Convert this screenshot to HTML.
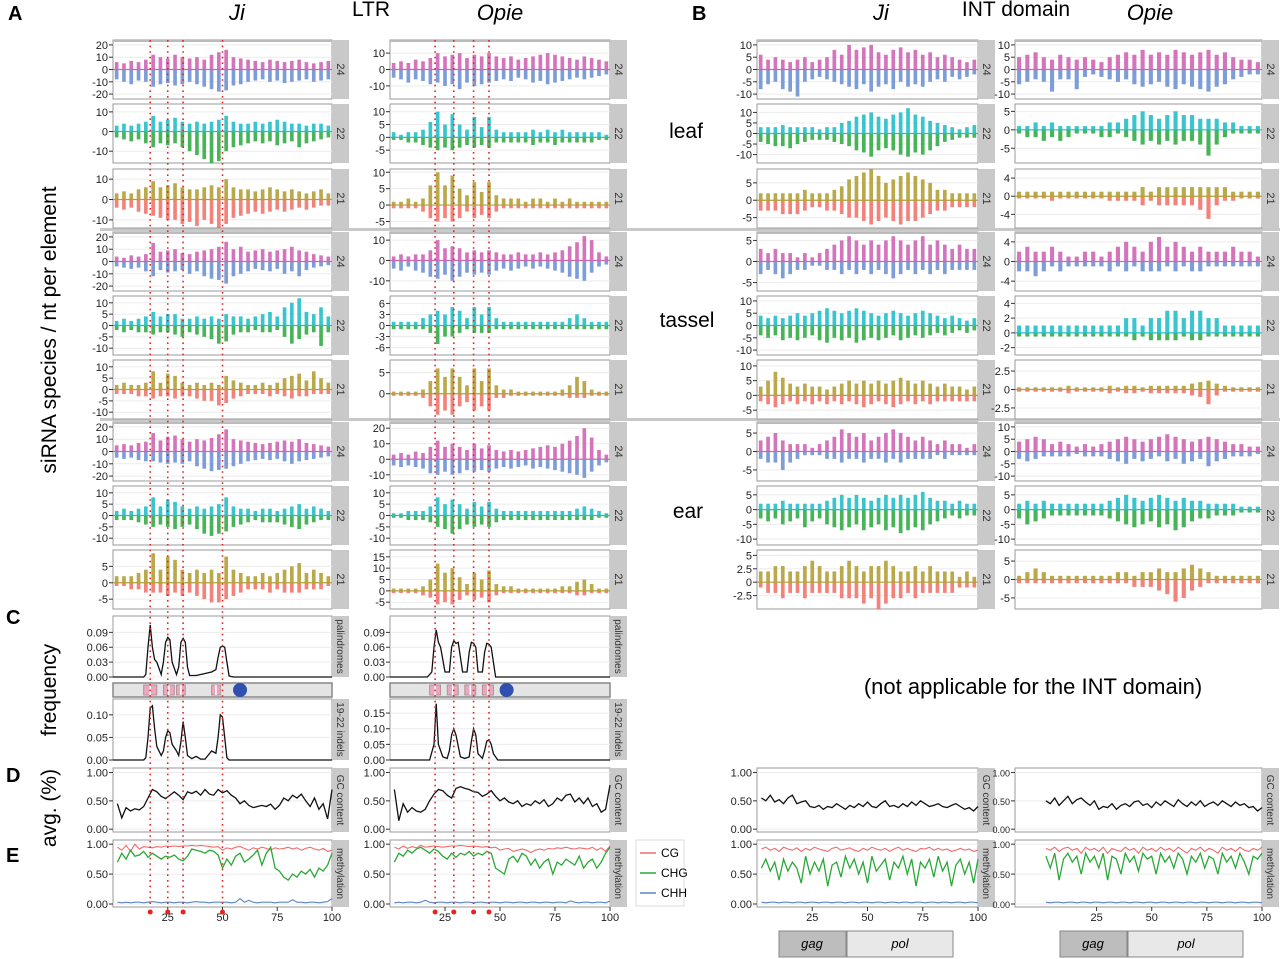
<!DOCTYPE html>
<html><head><meta charset="utf-8"><style>
html,body{margin:0;padding:0;background:#fff;}
svg{display:block;font-family:"Liberation Sans",sans-serif;}
</style></head><body>
<svg id="fig" width="1280" height="959" viewBox="0 0 1280 959" xmlns="http://www.w3.org/2000/svg">
<g id="static">
<text x="8" y="20" font-size="20" font-weight="bold">A</text>
<text x="692" y="20" font-size="20" font-weight="bold">B</text>
<text x="6" y="624" font-size="20" font-weight="bold">C</text>
<text x="6" y="782" font-size="20" font-weight="bold">D</text>
<text x="6" y="862" font-size="20" font-weight="bold">E</text>
<text x="237" y="20" font-size="22" font-style="italic" text-anchor="middle">Ji</text>
<text x="371" y="16" font-size="21" text-anchor="middle">LTR</text>
<text x="500" y="20" font-size="22" font-style="italic" text-anchor="middle">Opie</text>
<text x="881" y="20" font-size="22" font-style="italic" text-anchor="middle">Ji</text>
<text x="1016" y="16" font-size="21" text-anchor="middle">INT domain</text>
<text x="1150" y="20" font-size="22" font-style="italic" text-anchor="middle">Opie</text>
<text transform="translate(56,330) rotate(-90)" font-size="21" text-anchor="middle">siRNA species / nt per element</text>
<text transform="translate(56,690) rotate(-90)" font-size="21" text-anchor="middle">frequency</text>
<text transform="translate(56,808) rotate(-90)" font-size="21" text-anchor="middle">avg. (%)</text>
<text x="686" y="138" font-size="21" text-anchor="middle">leaf</text>
<text x="687" y="327" font-size="21" text-anchor="middle">tassel</text>
<text x="688" y="518" font-size="21" text-anchor="middle">ear</text>
<text x="1033" y="694" font-size="22" text-anchor="middle">(not applicable for the INT domain)</text>
<rect x="100" y="228" width="1180" height="3" fill="#c8c8c8"/>
<rect x="100" y="418" width="1180" height="3" fill="#c8c8c8"/>
<g>
<rect x="636" y="840" width="48" height="66" fill="#fff" stroke="#ddd"/>
<line x1="640" y1="853" x2="656" y2="853" stroke="#f26b6b" stroke-width="1.5"/><text x="661" y="857" font-size="12">CG</text>
<line x1="640" y1="873" x2="656" y2="873" stroke="#2aa836" stroke-width="1.5"/><text x="661" y="877" font-size="12">CHG</text>
<line x1="640" y1="893" x2="656" y2="893" stroke="#5b86c6" stroke-width="1.5"/><text x="661" y="897" font-size="12">CHH</text>
</g>
<g>
<rect x="779" y="931" width="67" height="26" fill="#bdbdbd" stroke="#888"/><text x="812" y="948" font-size="13" font-style="italic" text-anchor="middle">gag</text>
<rect x="847" y="931" width="106" height="26" fill="#e8e8e8" stroke="#888"/><text x="900" y="948" font-size="13" font-style="italic" text-anchor="middle">pol</text>
</g>
<g>
<rect x="1060" y="931" width="67" height="26" fill="#bdbdbd" stroke="#888"/><text x="1093" y="948" font-size="13" font-style="italic" text-anchor="middle">gag</text>
<rect x="1128" y="931" width="115" height="26" fill="#e8e8e8" stroke="#888"/><text x="1186" y="948" font-size="13" font-style="italic" text-anchor="middle">pol</text>
</g>
</g>
<g id="dyn"></g>
</svg>
<script>
// ---- siRNA data (30 bins across element) ----
const ji_ltr_leaf24_pos=[6,5,7,6,8,12,10,9,12,10,9,10,8,12,14,16,10,9,8,7,6,8,7,6,7,8,6,5,6,7];
const ji_ltr_leaf24_neg=[-8,-10,-12,-9,-10,-14,-12,-11,-13,-12,-10,-12,-14,-16,-18,-17,-13,-12,-10,-9,-8,-10,-9,-11,-10,-9,-8,-10,-9,-8];
const ji_ltr_leaf22_pos=[3,4,3,4,5,8,5,6,7,5,4,5,4,5,6,8,5,4,4,5,4,5,6,5,4,4,3,4,4,3];
const ji_ltr_leaf22_neg=[-3,-4,-5,-4,-6,-8,-6,-7,-6,-8,-10,-12,-14,-16,-15,-10,-8,-7,-6,-5,-6,-5,-7,-6,-5,-8,-6,-5,-4,-3];
const ji_ltr_leaf21_pos=[3,4,3,5,6,9,6,7,8,6,5,5,6,7,6,10,6,5,5,4,5,6,5,4,5,4,3,4,5,3];
const ji_ltr_leaf21_neg=[-4,-5,-4,-6,-7,-8,-9,-10,-10,-12,-11,-13,-10,-12,-14,-12,-9,-8,-7,-6,-7,-6,-5,-6,-5,-4,-5,-4,-3,-3];
const ji_ltr_tassel24_pos=[4,3,5,4,6,15,8,9,10,7,6,8,9,10,12,16,10,12,8,9,10,8,9,10,12,9,8,6,5,4];
const ji_ltr_tassel24_neg=[-4,-5,-6,-5,-8,-12,-7,-9,-8,-7,-10,-8,-12,-14,-15,-18,-12,-10,-8,-6,-7,-8,-6,-10,-8,-12,-7,-5,-4,-3];
const ji_ltr_tassel22_pos=[2,3,2,3,4,6,4,5,5,3,3,4,3,4,3,5,4,4,3,4,5,6,4,8,10,12,6,5,8,4];
const ji_ltr_tassel22_neg=[-2,-3,-2,-3,-3,-4,-3,-3,-4,-5,-3,-4,-5,-6,-8,-7,-4,-3,-3,-2,-3,-3,-2,-5,-8,-6,-4,-3,-9,-3];
const ji_ltr_tassel21_pos=[2,3,2,2,3,8,3,7,6,3,2,3,2,3,2,6,4,3,2,2,3,2,3,5,6,7,4,8,5,3];
const ji_ltr_tassel21_neg=[-2,-2,-2,-3,-3,-4,-3,-3,-4,-3,-3,-4,-5,-5,-7,-6,-4,-3,-2,-2,-2,-3,-2,-3,-4,-3,-3,-2,-2,-2];
const ji_ltr_ear24_pos=[5,6,5,7,8,15,9,12,13,10,8,10,9,11,14,18,10,9,8,7,6,7,8,9,8,10,7,6,5,4];
const ji_ltr_ear24_neg=[-5,-6,-5,-7,-8,-8,-9,-10,-9,-10,-8,-12,-14,-16,-15,-14,-12,-10,-8,-7,-6,-7,-6,-8,-10,-8,-7,-6,-5,-4];
const ji_ltr_ear22_pos=[2,3,2,3,4,8,4,7,6,4,3,4,3,4,5,8,4,3,3,2,3,3,2,3,4,5,3,4,3,2];
const ji_ltr_ear22_neg=[-2,-2,-2,-3,-4,-5,-4,-5,-6,-5,-4,-6,-8,-9,-8,-7,-5,-4,-3,-2,-3,-3,-3,-4,-5,-6,-4,-3,-2,-2];
const ji_ltr_ear21_pos=[2,2,2,3,4,9,4,8,7,4,3,4,3,4,3,8,4,3,2,2,3,2,3,4,5,6,3,4,3,2];
const ji_ltr_ear21_neg=[-1,-1,-2,-2,-3,-3,-3,-4,-3,-4,-3,-4,-5,-6,-6,-5,-4,-3,-2,-2,-2,-3,-2,-3,-3,-3,-2,-2,-2,-1];

const opie_ltr_leaf24_pos=[4,5,4,6,5,7,10,8,9,10,7,9,8,10,8,7,8,6,7,8,9,10,9,8,7,6,8,7,6,5];
const opie_ltr_leaf24_neg=[-5,-6,-8,-6,-7,-9,-8,-10,-9,-12,-8,-10,-9,-8,-7,-6,-7,-5,-6,-8,-7,-9,-8,-7,-6,-5,-6,-5,-4,-3];
const opie_ltr_leaf22_pos=[2,1,2,2,3,6,10,5,9,5,3,8,4,8,3,2,2,2,2,3,2,3,2,3,2,2,2,2,2,1];
const opie_ltr_leaf22_neg=[-1,-1,-2,-2,-3,-4,-5,-4,-5,-4,-3,-4,-3,-4,-2,-2,-2,-2,-2,-3,-2,-2,-3,-2,-2,-2,-2,-2,-1,-1];
const opie_ltr_leaf21_pos=[1,1,2,1,2,6,10,6,9,5,3,7,4,7,3,2,2,2,1,2,2,1,2,1,2,1,1,1,1,1];
const opie_ltr_leaf21_neg=[-1,-1,-1,-1,-2,-4,-5,-4,-5,-4,-2,-4,-3,-4,-2,-1,-1,-1,-1,-1,-1,-1,-1,-1,-1,-1,-1,-1,-1,-1];
const opie_ltr_tassel24_pos=[2,3,2,3,3,5,10,6,7,6,4,5,4,5,4,3,3,4,3,3,4,3,4,5,7,9,12,10,4,2];
const opie_ltr_tassel24_neg=[-4,-5,-3,-5,-6,-8,-9,-7,-10,-8,-6,-7,-6,-7,-5,-4,-5,-4,-3,-4,-3,-4,-5,-6,-8,-9,-10,-6,-3,-2];
const opie_ltr_tassel22_pos=[1,1,1,1,2,3,4,3,5,4,2,5,3,5,2,1,1,1,1,1,1,1,1,1,2,3,2,1,1,1];
const opie_ltr_tassel22_neg=[-1,-1,-1,-1,-1,-2,-5,-3,-3,-2,-1,-2,-2,-2,-1,-1,-1,-1,-1,-1,-1,-1,-1,-1,-1,-1,-1,-1,-1,-1];
const opie_ltr_tassel21_pos=[0.5,0.5,0.5,0.5,1,3,6,4,6,4,2,6,3,6,2,1,1,0.5,0.5,0.5,0.5,0.5,0.5,1,2,4,3,1,0.5,0.5];
const opie_ltr_tassel21_neg=[-0.5,-0.5,-0.5,-0.5,-1,-3,-5,-4,-5,-3,-2,-4,-3,-4,-1,-1,-0.5,-0.5,-0.5,-0.5,-0.5,-0.5,-0.5,-0.5,-1,-1,-1,-0.5,-0.5,-0.5];
const opie_ltr_ear24_pos=[3,4,3,5,4,8,12,8,10,8,6,10,7,9,6,5,6,5,6,7,8,9,8,10,12,15,20,14,6,3];
const opie_ltr_ear24_neg=[-4,-5,-4,-5,-6,-9,-10,-8,-10,-9,-7,-8,-7,-8,-6,-5,-6,-5,-4,-6,-5,-6,-7,-8,-9,-10,-12,-8,-4,-2];
const opie_ltr_ear22_pos=[1,1,2,2,2,4,8,5,7,5,3,6,4,6,3,2,2,2,2,2,2,2,2,2,2,3,4,3,2,1];
const opie_ltr_ear22_neg=[-1,-1,-2,-2,-2,-3,-5,-6,-8,-6,-4,-5,-4,-5,-3,-2,-2,-2,-2,-2,-2,-2,-2,-2,-2,-2,-2,-2,-1,-1];
const opie_ltr_ear21_pos=[1,1,1,1,2,5,12,8,10,6,3,8,5,9,3,2,2,1,1,1,1,1,1,2,2,4,5,3,1,1];
const opie_ltr_ear21_neg=[-1,-1,-1,-1,-2,-3,-6,-5,-6,-4,-2,-4,-3,-5,-2,-1,-1,-1,-1,-1,-1,-1,-1,-1,-1,-2,-2,-1,-1,-1];

const ji_int_leaf24_pos=[6,4,5,4,3,4,5,3,4,5,8,6,10,8,9,10,7,6,8,9,7,8,6,7,5,6,5,4,3,4];
const ji_int_leaf24_neg=[-8,-6,-5,-8,-9,-11,-5,-4,-3,-4,-5,-6,-7,-8,-6,-9,-7,-6,-8,-5,-7,-6,-7,-5,-4,-5,-3,-4,-3,-2];
const ji_int_leaf22_pos=[3,3,3,4,3,3,3,3,2,3,3,5,6,8,9,10,8,7,9,10,12,9,8,6,5,4,3,2,3,4];
const ji_int_leaf22_neg=[-4,-5,-6,-6,-7,-5,-4,-3,-3,-3,-4,-5,-6,-8,-9,-11,-8,-7,-8,-10,-11,-9,-10,-8,-6,-4,-3,-2,-2,-2];
const ji_int_leaf21_pos=[2,2,2,2,2,2,3,2,2,2,3,4,6,7,8,9,7,5,6,7,8,7,6,5,3,3,2,2,2,2];
const ji_int_leaf21_neg=[-3,-3,-3,-4,-4,-4,-3,-2,-2,-3,-3,-4,-5,-5,-6,-7,-6,-5,-6,-7,-6,-6,-5,-4,-3,-3,-2,-2,-2,-2];
const ji_int_tassel24_pos=[3,2,3,2,2,1,2,1,2,3,4,5,6,5,4,5,4,5,6,5,4,5,6,4,5,4,3,4,3,3];
const ji_int_tassel24_neg=[-3,-2,-3,-4,-3,-2,-2,-1,-1,-2,-2,-3,-2,-3,-2,-3,-2,-3,-4,-3,-2,-3,-2,-3,-2,-3,-2,-2,-2,-2];
const ji_int_tassel22_pos=[4,3,4,3,4,5,4,5,6,7,6,5,6,7,6,5,4,5,6,5,4,5,6,5,4,3,4,3,2,3];
const ji_int_tassel22_neg=[-4,-5,-4,-6,-5,-6,-5,-4,-6,-7,-5,-6,-5,-7,-6,-5,-6,-5,-4,-6,-5,-4,-5,-4,-3,-4,-3,-2,-3,-2];
const ji_int_tassel21_pos=[3,5,8,6,4,3,4,3,3,2,3,4,5,4,5,4,5,4,5,6,5,4,5,4,3,4,3,3,2,3];
const ji_int_tassel21_neg=[-2,-3,-4,-3,-2,-3,-2,-3,-2,-3,-2,-3,-2,-3,-4,-3,-2,-3,-4,-3,-2,-3,-2,-3,-2,-2,-2,-2,-2,-2];
const ji_int_ear24_pos=[3,4,5,3,2,2,2,1,2,3,4,6,5,4,5,3,4,5,6,5,4,3,4,3,2,3,2,2,1,2];
const ji_int_ear24_neg=[-2,-3,-3,-5,-3,-2,-1,-1,-1,-2,-2,-3,-2,-2,-3,-2,-2,-3,-2,-3,-2,-2,-2,-2,-1,-2,-1,-1,-1,-1];
const ji_int_ear22_pos=[2,2,2,3,2,2,2,2,2,3,4,5,4,5,4,3,4,5,4,5,4,5,6,4,3,3,2,3,2,2];
const ji_int_ear22_neg=[-3,-4,-3,-5,-4,-3,-6,-4,-3,-5,-6,-7,-6,-5,-7,-6,-5,-7,-6,-8,-7,-6,-7,-5,-4,-3,-2,-3,-2,-2];
const ji_int_ear21_pos=[2,2,3,3,2,2,3,4,3,2,2,3,4,3,2,3,3,4,3,2,2,3,2,3,2,2,2,1,2,1];
const ji_int_ear21_neg=[-1,-2,-2,-3,-2,-2,-3,-2,-2,-2,-2,-3,-3,-3,-4,-3,-5,-4,-3,-3,-2,-3,-2,-2,-2,-2,-2,-1,-1,-1];

const opie_int_leaf24_pos=[5,6,7,5,4,6,5,4,5,4,3,5,6,7,6,8,6,7,6,8,7,6,7,8,6,7,5,4,4,3];
const opie_int_leaf24_neg=[-6,-5,-4,-5,-9,-4,-4,-8,-3,-2,-3,-4,-5,-4,-6,-7,-6,-5,-7,-8,-6,-7,-8,-9,-7,-6,-4,-3,-2,-2];
const opie_int_leaf22_pos=[1,1,2,1,2,1,1,1,1,1,1,2,2,3,4,5,4,3,4,5,4,4,3,3,3,2,2,1,1,1];
const opie_int_leaf22_neg=[-1,-2,-2,-3,-2,-3,-2,-1,-1,-1,-2,-2,-1,-2,-3,-4,-3,-4,-3,-4,-3,-3,-4,-7,-4,-2,-1,-1,-1,-1];
const opie_int_leaf21_pos=[1,1,1,1,1,1,1,1,1,1,1,1,1,1,1,2,1,2,2,2,2,2,2,2,2,2,1,1,1,1];
const opie_int_leaf21_neg=[-0.5,-0.5,-0.5,-0.5,-1,-0.5,-0.5,-0.5,-0.5,-0.5,-0.5,-1,-1,-1,-1,-2,-1,-2,-2,-2,-2,-2,-3,-5,-2,-1,-1,-0.5,-0.5,-0.5];
const opie_int_tassel24_pos=[2,3,2,2,3,2,1,1,2,2,1,2,3,4,3,2,4,5,3,4,3,2,3,2,2,2,3,2,2,1];
const opie_int_tassel24_neg=[-2,-2,-3,-2,-1,-2,-1,-1,-1,-1,-1,-2,-1,-2,-1,-2,-2,-2,-1,-2,-1,-2,-2,-1,-1,-1,-1,-1,-1,-1];
const opie_int_tassel22_pos=[1,1,1,1,1,1,1,1,1,1,1,1,1,2,2,1,2,2,3,3,2,3,3,2,2,1,1,1,1,1];
const opie_int_tassel22_neg=[-0.5,-0.5,-0.5,-0.5,-0.5,-0.5,-0.5,-0.5,-0.5,-0.5,-0.5,-0.5,-0.5,-0.5,-1,-0.5,-1,-1,-1,-1,-0.5,-1,-1,-0.5,-0.5,-0.5,-0.5,-0.5,-0.5,-0.5];
const opie_int_tassel21_pos=[0.3,0.3,0.3,0.3,0.3,0.3,0.5,0.3,0.3,0.3,0.3,0.5,0.3,0.5,0.5,0.3,0.5,0.5,0.5,0.5,0.5,0.8,1,1.2,0.8,0.5,0.3,0.3,0.3,0.3];
const opie_int_tassel21_neg=[-0.3,-0.3,-0.3,-0.3,-0.3,-0.3,-0.5,-0.3,-0.3,-0.3,-0.3,-0.5,-0.3,-0.5,-0.5,-0.3,-0.5,-0.5,-0.5,-0.5,-0.5,-0.8,-1,-2,-0.8,-0.3,-0.3,-0.3,-0.3,-0.3];
const opie_int_ear24_pos=[4,5,6,5,3,4,3,2,3,2,3,4,5,6,5,4,5,6,7,6,5,4,5,6,5,4,3,3,2,2];
const opie_int_ear24_neg=[-3,-4,-3,-2,-2,-2,-2,-1,-2,-2,-2,-3,-4,-5,-3,-4,-3,-2,-4,-3,-5,-4,-3,-6,-4,-3,-2,-2,-2,-1];
const opie_int_ear22_pos=[2,3,2,3,2,2,2,2,2,2,2,3,4,5,4,3,4,5,4,3,4,3,3,2,2,2,2,1,1,1];
const opie_int_ear22_neg=[-3,-5,-4,-3,-2,-2,-2,-2,-2,-2,-2,-3,-4,-5,-6,-5,-4,-6,-5,-7,-6,-4,-3,-3,-2,-2,-2,-1,-1,-1];
const opie_int_ear21_pos=[1,2,3,2,1,1,1,1,1,1,1,1,2,2,1,2,2,3,2,2,3,4,3,2,1,1,1,1,1,1];
const opie_int_ear21_neg=[-1,-1,-1,-1,-1,-1,-1,-1,-1,-1,-1,-1,-1,-1,-2,-2,-2,-3,-4,-6,-5,-3,-2,-1,-1,-1,-1,-1,-1,-1];

// ---- palindromes / indels ----
const pal_ji_x=[0,14,15,16,17,18,19,20,22,23,24,25,26,27,29,30,31,32,33,34,35,38,40,45,47,48,49,50,51,52,53,55,100];
const pal_ji_y=[0,0,0.005,0.06,0.105,0.06,0.035,0.03,0.005,0.03,0.07,0.08,0.075,0.03,0.005,0.02,0.07,0.078,0.07,0.02,0.003,0.003,0.005,0.01,0.015,0.04,0.06,0.062,0.06,0.03,0.002,0,0];
const pal_opie_x=[0,17,19,20,21,22,23,25,27,28,29,30,31,33,35,36,37,38,39,40,42,43,44,45,46,47,48,100];
const pal_opie_y=[0,0,0.01,0.06,0.095,0.07,0.06,0.01,0.01,0.06,0.073,0.068,0.07,0.01,0.01,0.05,0.07,0.068,0.06,0.01,0.01,0.05,0.068,0.066,0.06,0.03,0,0];
const ind_ji_x=[0,14,15,16,17,18,19,20,22,23,24,25,26,27,29,30,31,32,33,34,36,38,40,42,45,47,48,49,50,51,52,53,100];
const ind_ji_y=[0,0,0.005,0.05,0.115,0.12,0.07,0.03,0.01,0.02,0.05,0.065,0.06,0.035,0.02,0.01,0.04,0.085,0.05,0.01,0.003,0.008,0.002,0.002,0.02,0.015,0.05,0.1,0.095,0.05,0.005,0,0];
const ind_opie_x=[0,18,20,21,22,24,26,27,28,29,30,32,34,36,37,38,39,40,42,43,44,45,46,47,49,100];
const ind_opie_y=[0,0,0.05,0.18,0.05,0.01,0.005,0.03,0.08,0.1,0.08,0.01,0.005,0.01,0.06,0.1,0.08,0.02,0.005,0.03,0.06,0.065,0.05,0.02,0,0];

// ---- GC content (50 points, x = 2..100) ----
const gc_ji_ltr=[0.45,0.2,0.38,0.32,0.36,0.34,0.4,0.55,0.7,0.66,0.58,0.54,0.6,0.66,0.6,0.52,0.66,0.63,0.67,0.6,0.7,0.62,0.6,0.7,0.64,0.68,0.6,0.55,0.45,0.5,0.42,0.38,0.4,0.42,0.4,0.44,0.35,0.42,0.55,0.5,0.6,0.55,0.62,0.5,0.4,0.55,0.35,0.45,0.18,0.7];
const gc_opie_ltr=[0.7,0.15,0.45,0.3,0.38,0.32,0.3,0.35,0.5,0.62,0.7,0.68,0.6,0.55,0.72,0.75,0.72,0.7,0.66,0.65,0.58,0.62,0.68,0.58,0.5,0.55,0.48,0.45,0.5,0.4,0.45,0.42,0.5,0.45,0.52,0.4,0.45,0.55,0.5,0.6,0.62,0.48,0.55,0.45,0.55,0.4,0.45,0.3,0.35,0.78];
const gc_ji_int=[0.55,0.5,0.6,0.48,0.52,0.45,0.55,0.6,0.45,0.48,0.5,0.4,0.38,0.42,0.35,0.4,0.38,0.45,0.4,0.35,0.42,0.38,0.45,0.4,0.48,0.4,0.38,0.45,0.5,0.4,0.42,0.38,0.45,0.4,0.48,0.42,0.5,0.45,0.4,0.42,0.45,0.4,0.38,0.42,0.45,0.4,0.35,0.38,0.32,0.4];
const gc_opie_int=[0.5,0.45,0.55,0.42,0.5,0.58,0.45,0.52,0.55,0.48,0.42,0.5,0.35,0.4,0.38,0.45,0.35,0.42,0.45,0.4,0.48,0.5,0.42,0.45,0.38,0.48,0.42,0.5,0.45,0.4,0.52,0.45,0.4,0.48,0.42,0.5,0.4,0.45,0.48,0.42,0.5,0.45,0.4,0.48,0.42,0.45,0.38,0.4,0.32,0.38];

// ---- methylation (50 points) ----
const cg_ji_ltr=[0.95,0.9,0.98,0.88,1.0,0.92,0.96,0.95,0.94,0.96,0.95,0.97,0.96,0.97,0.96,0.97,0.97,0.98,0.97,0.98,0.97,0.96,0.95,0.96,0.9,0.94,0.92,0.95,0.96,0.93,0.9,0.94,0.92,0.95,0.93,0.9,0.94,0.92,0.93,0.95,0.92,0.94,0.9,0.93,0.95,0.92,0.9,0.93,0.88,0.9];
const cg_opie_ltr=[0.95,0.92,0.97,0.93,0.96,0.94,0.98,0.95,0.96,0.97,0.96,0.95,0.96,0.97,0.97,0.98,0.97,0.96,0.97,0.96,0.95,0.96,0.94,0.95,0.9,0.92,0.93,0.88,0.9,0.92,0.9,0.86,0.9,0.92,0.9,0.93,0.92,0.94,0.93,0.95,0.93,0.92,0.94,0.93,0.92,0.95,0.9,0.94,0.88,0.97];
const cg_ji_int=[0.92,0.95,0.9,0.93,0.88,0.95,0.92,0.9,0.94,0.88,0.93,0.9,0.95,0.92,0.9,0.88,0.93,0.95,0.9,0.92,0.94,0.9,0.88,0.93,0.9,0.95,0.92,0.9,0.93,0.88,0.92,0.95,0.9,0.93,0.9,0.88,0.93,0.92,0.95,0.9,0.93,0.9,0.92,0.88,0.9,0.93,0.9,0.92,0.88,0.9];
const cg_opie_int=[0.93,0.9,0.95,0.88,0.93,0.95,0.9,0.93,0.85,0.95,0.9,0.93,0.88,0.95,0.85,0.93,0.9,0.88,0.95,0.9,0.93,0.85,0.95,0.9,0.93,0.88,0.95,0.9,0.93,0.88,0.95,0.9,0.85,0.93,0.9,0.95,0.88,0.93,0.9,0.85,0.95,0.9,0.93,0.88,0.95,0.9,0.88,0.93,0.9,0.95];
const chg_ji_ltr=[0.7,0.85,0.75,0.9,0.8,0.82,0.88,0.78,0.85,0.8,0.75,0.8,0.78,0.82,0.75,0.72,0.8,0.92,0.9,0.88,0.85,0.9,0.88,0.82,0.6,0.75,0.65,0.8,0.85,0.7,0.75,0.82,0.9,0.65,0.85,0.95,0.6,0.55,0.45,0.4,0.5,0.45,0.55,0.5,0.58,0.45,0.6,0.55,0.65,0.85];
const chg_opie_ltr=[0.7,0.85,0.8,0.9,0.85,0.92,0.95,0.9,0.85,0.92,0.88,0.8,0.75,0.85,0.78,0.85,0.82,0.88,0.8,0.85,0.82,0.88,0.85,0.6,0.55,0.5,0.75,0.8,0.7,0.85,0.8,0.65,0.75,0.6,0.7,0.75,0.5,0.7,0.65,0.75,0.7,0.65,0.8,0.6,0.7,0.75,0.6,0.7,0.85,0.95];
const chg_ji_int=[0.6,0.75,0.55,0.7,0.4,0.75,0.55,0.7,0.6,0.35,0.8,0.5,0.7,0.55,0.75,0.3,0.65,0.7,0.45,0.8,0.6,0.75,0.5,0.7,0.35,0.8,0.55,0.65,0.75,0.4,0.7,0.6,0.8,0.5,0.75,0.3,0.7,0.6,0.75,0.45,0.8,0.55,0.7,0.3,0.65,0.75,0.5,0.7,0.35,0.75];
const chg_opie_int=[0.8,0.6,0.85,0.4,0.75,0.85,0.7,0.8,0.5,0.85,0.7,0.8,0.6,0.85,0.4,0.8,0.75,0.5,0.85,0.7,0.8,0.55,0.85,0.75,0.8,0.5,0.85,0.7,0.8,0.6,0.85,0.75,0.5,0.8,0.7,0.85,0.6,0.8,0.75,0.5,0.85,0.7,0.8,0.6,0.85,0.7,0.5,0.8,0.75,0.85];
const chh_ji_ltr=[0.03,0.02,0.03,0.02,0.03,0.03,0.02,0.03,0.04,0.03,0.02,0.03,0.03,0.02,0.03,0.03,0.02,0.03,0.04,0.03,0.03,0.02,0.03,0.03,0.03,0.03,0.02,0.03,0.09,0.03,0.06,0.03,0.02,0.03,0.03,0.03,0.02,0.03,0.03,0.03,0.07,0.03,0.03,0.02,0.03,0.03,0.02,0.03,0.04,0.09];
const chh_opie_ltr=[0.02,0.03,0.02,0.03,0.03,0.02,0.03,0.06,0.03,0.02,0.03,0.03,0.02,0.03,0.03,0.02,0.03,0.03,0.02,0.03,0.03,0.02,0.03,0.03,0.02,0.03,0.03,0.02,0.03,0.03,0.02,0.03,0.03,0.02,0.03,0.03,0.02,0.03,0.03,0.02,0.05,0.03,0.02,0.03,0.03,0.02,0.03,0.03,0.02,0.05];
const chh_ji_int=[0.03,0.02,0.03,0.03,0.02,0.03,0.03,0.02,0.03,0.03,0.02,0.03,0.03,0.02,0.03,0.03,0.02,0.03,0.03,0.02,0.03,0.03,0.02,0.03,0.03,0.02,0.03,0.03,0.02,0.03,0.03,0.02,0.03,0.03,0.02,0.03,0.03,0.02,0.03,0.03,0.02,0.03,0.03,0.02,0.03,0.03,0.02,0.03,0.03,0.02];
const chh_opie_int=[0.03,0.02,0.03,0.03,0.02,0.03,0.03,0.02,0.03,0.03,0.02,0.03,0.03,0.02,0.03,0.03,0.02,0.03,0.03,0.02,0.03,0.03,0.02,0.03,0.03,0.02,0.03,0.03,0.02,0.03,0.03,0.02,0.03,0.03,0.02,0.03,0.03,0.02,0.03,0.03,0.02,0.03,0.03,0.02,0.03,0.03,0.02,0.03,0.03,0.02];

// ---- layout ----
const NS='http://www.w3.org/2000/svg';
const dyn=document.getElementById('dyn');
function el(tag,attrs,parent){const e=document.createElementNS(NS,tag);for(const k in attrs)e.setAttribute(k,attrs[k]);(parent||dyn).appendChild(e);return e;}
function txt(s,attrs,parent){const e=el('text',attrs,parent);e.textContent=s;return e;}

const cols=[
 {key:'ji_ltr',left:113,right:332,dom:[0,100]},
 {key:'opie_ltr',left:390,right:610,dom:[0,100]},
 {key:'ji_int',left:757,right:978,dom:[0,100]},
 {key:'opie_int',left:1015,right:1262,dom:[-12,100]}
];
const rowTops=[40,104,169,232,296,360,422,486,550];
const rowH=59;
const tissues=['leaf','tassel','ear'];
const sizes=['24','22','21'];
const colors={'24':['#cf66b4','#6f92d4'],'22':['#22bfc9','#33ad45'],'21':['#b3a035','#f2746c']};
const lims={
 ji_ltr:[[-24,24,[20,10,0,-10,-20]],[-16,14,[10,0,-10]],[-14,15,[10,0,-10]],[-24,24,[20,10,0,-10,-20]],[-13,13,[10,5,0,-5,-10]],[-13,13,[10,5,0,-5,-10]],[-24,24,[20,10,0,-10,-20]],[-13,13,[10,5,0,-5,-10]],[-8,10,[5,0,-5]]],
 opie_ltr:[[-18,18,[10,0,-10]],[-10,13,[10,5,0,-5]],[-7,11,[10,5,0,-5]],[-15,14,[10,0,-10]],[-8,8,[6,3,0,-3,-6]],[-6,8,[5,0]],[-14,24,[20,10,0,-10]],[-13,13,[10,5,0,-5,-10]],[-8,18,[15,10,5,0,-5]]],
 ji_int:[[-12,12,[10,5,0,-5,-10]],[-14,14,[10,5,0,-5,-10]],[-8,9,[5,0,-5]],[-7,7,[5,0,-5]],[-12,12,[10,5,0,-5,-10]],[-8,12,[10,5,0,-5]],[-8,8,[5,0,-5]],[-12,8,[5,0,-5,-10]],[-5,6,[5,2.5,0,-2.5]]],
 opie_int:[[-12,12,[10,5,0,-5,-10]],[-9,7,[5,0,-5]],[-7,6,[4,0,-4]],[-6,6,[4,0,-4]],[-3,5,[4,2,0,-2]],[-4,4,[2.5,0,-2.5]],[-12,12,[10,5,0,-5,-10]],[-12,8,[5,0,-5,-10]],[-8,8,[5,0,-5]]]
};
const data={
 ji_ltr:[[ji_ltr_leaf24_pos,ji_ltr_leaf24_neg],[ji_ltr_leaf22_pos,ji_ltr_leaf22_neg],[ji_ltr_leaf21_pos,ji_ltr_leaf21_neg],[ji_ltr_tassel24_pos,ji_ltr_tassel24_neg],[ji_ltr_tassel22_pos,ji_ltr_tassel22_neg],[ji_ltr_tassel21_pos,ji_ltr_tassel21_neg],[ji_ltr_ear24_pos,ji_ltr_ear24_neg],[ji_ltr_ear22_pos,ji_ltr_ear22_neg],[ji_ltr_ear21_pos,ji_ltr_ear21_neg]],
 opie_ltr:[[opie_ltr_leaf24_pos,opie_ltr_leaf24_neg],[opie_ltr_leaf22_pos,opie_ltr_leaf22_neg],[opie_ltr_leaf21_pos,opie_ltr_leaf21_neg],[opie_ltr_tassel24_pos,opie_ltr_tassel24_neg],[opie_ltr_tassel22_pos,opie_ltr_tassel22_neg],[opie_ltr_tassel21_pos,opie_ltr_tassel21_neg],[opie_ltr_ear24_pos,opie_ltr_ear24_neg],[opie_ltr_ear22_pos,opie_ltr_ear22_neg],[opie_ltr_ear21_pos,opie_ltr_ear21_neg]],
 ji_int:[[ji_int_leaf24_pos,ji_int_leaf24_neg],[ji_int_leaf22_pos,ji_int_leaf22_neg],[ji_int_leaf21_pos,ji_int_leaf21_neg],[ji_int_tassel24_pos,ji_int_tassel24_neg],[ji_int_tassel22_pos,ji_int_tassel22_neg],[ji_int_tassel21_pos,ji_int_tassel21_neg],[ji_int_ear24_pos,ji_int_ear24_neg],[ji_int_ear22_pos,ji_int_ear22_neg],[ji_int_ear21_pos,ji_int_ear21_neg]],
 opie_int:[[opie_int_leaf24_pos,opie_int_leaf24_neg],[opie_int_leaf22_pos,opie_int_leaf22_neg],[opie_int_leaf21_pos,opie_int_leaf21_neg],[opie_int_tassel24_pos,opie_int_tassel24_neg],[opie_int_tassel22_pos,opie_int_tassel22_neg],[opie_int_tassel21_pos,opie_int_tassel21_neg],[opie_int_ear24_pos,opie_int_ear24_neg],[opie_int_ear22_pos,opie_int_ear22_neg],[opie_int_ear21_pos,opie_int_ear21_neg]]
};

function frame(g,left,right,top,h,ticks,ys,label,fmt,fs){
  el('rect',{x:left,y:top,width:right-left,height:h,fill:'#fff',stroke:'#9a9a9a','stroke-width':1},g);
  ticks.forEach(t=>{
    const y=ys(t);
    el('line',{x1:left,x2:right,y1:y,y2:y,stroke:'#ececec','stroke-width':1},g);
    el('line',{x1:left-4,x2:left,y1:y,y2:y,stroke:'#333','stroke-width':1},g);
    const tl=txt(fmt?fmt(t):String(t),{x:left-5,y:y+4,'font-size':fs||11,'text-anchor':'end',fill:'#222'},g);
    
    
  });
  const s=el('rect',{x:right,y:top,width:17,height:h,fill:'#c9c9c9'},g);
  
  
  const st=txt(label,{transform:`translate(${right+5},${top+h/2}) rotate(90)`,'font-size':label.length>3?10:11,'text-anchor':'middle',fill:'#333'},g);
  
  
}

cols.forEach(c=>{
  for(let r=0;r<9;r++){
    const top=rowTops[r], h=rowH;
    const [lo,hi,ticks]=lims[c.key][r];
    const ys=v=>top+(hi-v)/(hi-lo)*h;
    const g=el('g',{});
    
    
    frame(g,c.left,c.right,top,h,ticks,ys,sizes[r%3]);
    if(r%3===0) el('rect',{x:c.left,y:top,width:c.right-c.left,height:2,fill:'#bbb'},g);
    const [pos,neg]=data[c.key][r];
    const col=colors[sizes[r%3]];
    const n=pos.length, bw=(c.right-c.left)/n;
    const y0=ys(0);
    const w=bw*0.5;
    pos.forEach((v,i)=>{
      const b=el('rect',{x:c.left+i*bw+(bw-w)/2,y:ys(v),width:w,height:y0-ys(v),fill:col[0],opacity:0.9},g);
      
      
    });
    neg.forEach((v,i)=>{
      const b=el('rect',{x:c.left+i*bw+(bw-w)/2,y:y0,width:w,height:ys(v)-y0,fill:col[1],opacity:0.9},g);
      
      
    });
    el('line',{x1:c.left,x2:c.right,y1:y0,y2:y0,stroke:col[0],'stroke-width':1.2},g);
  }
});

function linePanel(c,top,h,lo,hi,ticks,label,series,fmt,name,fs){
  const g=el('g',{});
  
  
  const ys=v=>top+(hi-v)/(hi-lo)*h;
  const xs=v=>c.left+(v-c.dom[0])/(c.dom[1]-c.dom[0])*(c.right-c.left);
  frame(g,c.left,c.right,top,h,ticks,ys,label,fmt,fs);
  series.forEach(s=>{
    const xv=s.x||s.y.map((_,i)=>(i+1)*2);
    const d=xv.map((x,i)=>(i?'L':'M')+xs(x).toFixed(1)+','+ys(s.y[i]).toFixed(1)).join('');
    const p=el('path',{d:d,fill:'none',stroke:s.color,'stroke-width':s.w||1.3},g);
    
    
  });
  return g;
}
const f2=t=>t.toFixed(2);
linePanel(cols[0],616,61,0,0.123,[0.09,0.06,0.03,0],'palindromes',[{x:pal_ji_x,y:pal_ji_y,color:'#111',name:'palindrome-line'}],f2,'ji-palindromes-panel');
linePanel(cols[1],616,61,0,0.123,[0.09,0.06,0.03,0],'palindromes',[{x:pal_opie_x,y:pal_opie_y,color:'#111',name:'palindrome-line'}],f2,'opie-palindromes-panel');
linePanel(cols[0],699,61,0,0.135,[0.10,0.05,0],'19-22 indels',[{x:ind_ji_x,y:ind_ji_y,color:'#111',name:'indel-line'}],f2,'ji-indels-panel');
linePanel(cols[1],699,61,0,0.195,[0.15,0.10,0.05,0],'19-22 indels',[{x:ind_opie_x,y:ind_opie_y,color:'#111',name:'indel-line'}],f2,'opie-indels-panel');
const gcs={ji_ltr:gc_ji_ltr,opie_ltr:gc_opie_ltr,ji_int:gc_ji_int,opie_int:gc_opie_int};
const cgs={ji_ltr:cg_ji_ltr,opie_ltr:cg_opie_ltr,ji_int:cg_ji_int,opie_int:cg_opie_int};
const chgs={ji_ltr:chg_ji_ltr,opie_ltr:chg_opie_ltr,ji_int:chg_ji_int,opie_int:chg_opie_int};
const chhs={ji_ltr:chh_ji_ltr,opie_ltr:chh_opie_ltr,ji_int:chh_ji_int,opie_int:chh_opie_int};
const xtickVals=[25,50,75,100];
cols.forEach(c=>{
  const fs=c.key==='opie_int'?9:11;
  linePanel(c,768,64,-0.05,1.08,[1,0.5,0],'GC content',[{y:gcs[c.key],color:'#111',name:'gc-line'}],f2,c.key+'-gc-panel',fs);
  linePanel(c,840,67,-0.05,1.07,[1,0.5,0],'methylation',[
    {y:cgs[c.key],color:'#f26b6b',name:'cg-line',w:1.1},
    {y:chgs[c.key],color:'#2aa836',name:'chg-line',w:1.3},
    {y:chhs[c.key],color:'#5b86c6',name:'chh-line',w:1.1}],f2,c.key+'-methylation-panel',fs);
  const xs=v=>c.left+(v-c.dom[0])/(c.dom[1]-c.dom[0])*(c.right-c.left);
  xtickVals.forEach(v=>{
    el('line',{x1:xs(v),x2:xs(v),y1:907,y2:911,stroke:'#333'});
    const t=txt(String(v),{x:xs(v),y:921,'font-size':11,'text-anchor':'middle',fill:'#222'});
    
    
  });
});

const rep_ji=[[14,20],[23,28],[29,33],[45,49]];
const rep_opie=[[18,23],[26,31],[34,39],[42,47]];
const circ_ji=[58];
const circ_opie=[53];
function geneBar(c,reps,circ,name){
  const g=el('g',{});
  
  
  const xs=v=>c.left+(v-c.dom[0])/(c.dom[1]-c.dom[0])*(c.right-c.left);
  el('rect',{x:c.left,y:683,width:c.right-c.left,height:14,fill:'#e4e4e4',stroke:'#888','stroke-width':1.5},g);
  reps.forEach(r=>{
    el('rect',{x:xs(r[0]),y:685,width:xs(r[1])-xs(r[0]),height:10,fill:'#e7a8c0',stroke:'#a88','stroke-width':0.8},g);
    const m=(r[0]+r[1])/2;
    el('line',{x1:xs(m),x2:xs(m),y1:685,y2:695,stroke:'#fff','stroke-width':1.5},g);
  });
  circ.forEach(v=>el('circle',{cx:xs(v),cy:690,r:7,fill:'#3050b0'},g));
}
geneBar(cols[0],rep_ji,circ_ji,'ji-ltr-structure-bar');
geneBar(cols[1],rep_opie,circ_opie,'opie-ltr-structure-bar');

const marks_ji=[17,25,32,50];
const marks_opie=[20.5,29,38,45];
[[cols[0],marks_ji],[cols[1],marks_opie]].forEach(([c,ms])=>{
  const xs=v=>c.left+(v-c.dom[0])/(c.dom[1]-c.dom[0])*(c.right-c.left);
  ms.forEach(v=>{
    const l=el('line',{x1:xs(v),x2:xs(v),y1:40,y2:908,stroke:'#e8231f','stroke-width':1.6,'stroke-dasharray':'1.6,4'});
    
    
    const d=el('circle',{cx:xs(v),cy:912,r:2.5,fill:'#e8231f'});
    
    
  });
});
</script>
</body></html>
